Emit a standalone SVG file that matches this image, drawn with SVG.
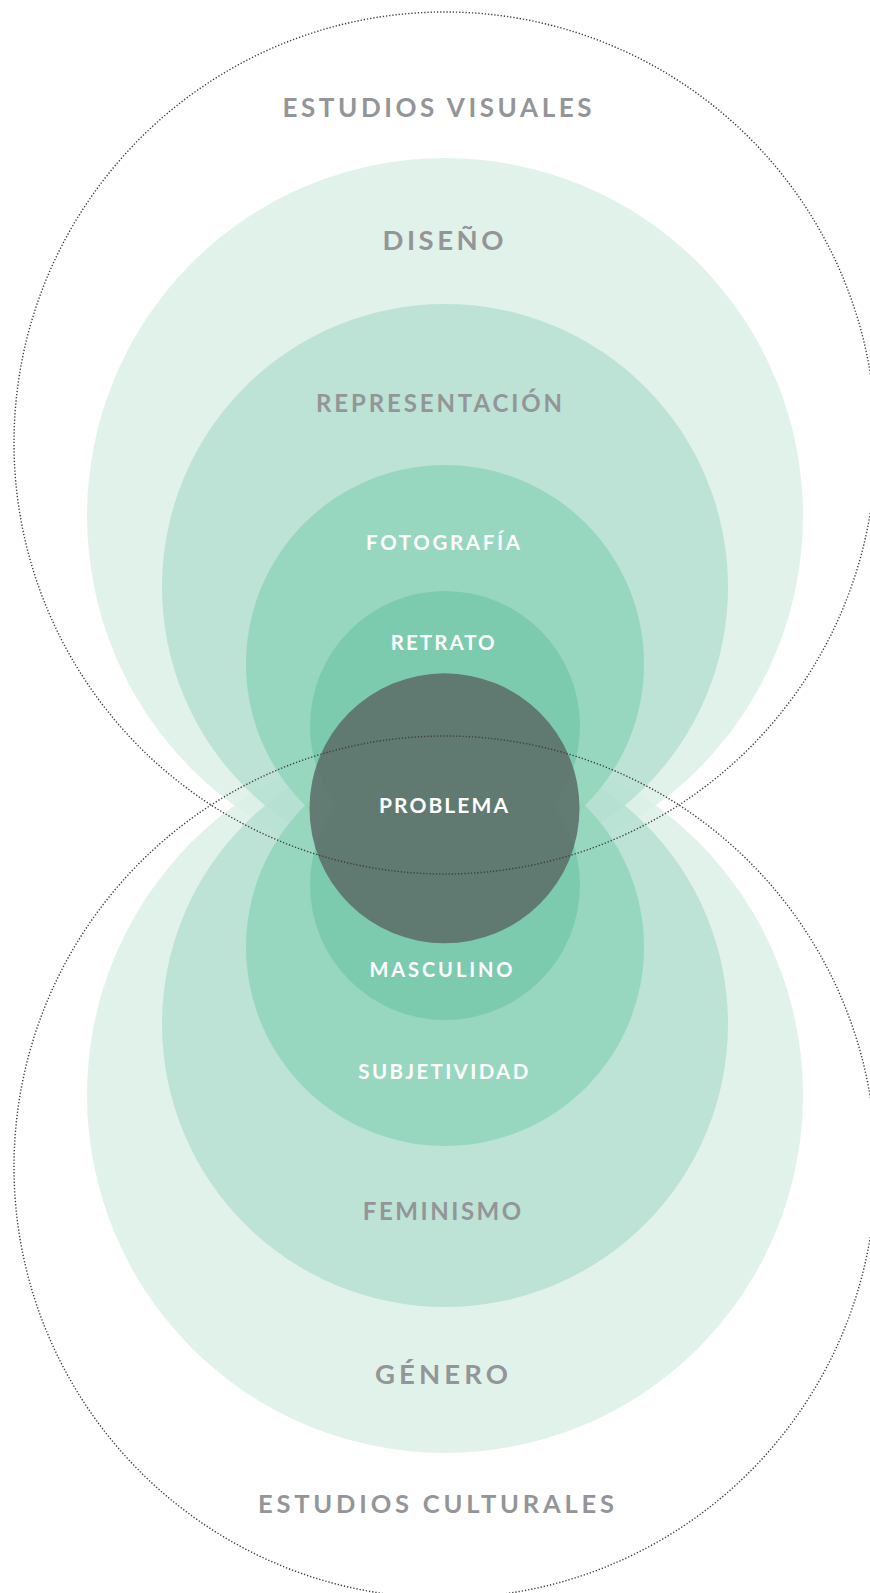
<svg xmlns="http://www.w3.org/2000/svg" width="870" height="1593" viewBox="0 0 870 1593">
<style>
.l1{fill:#dcf0e6;opacity:0.85}
.l2{fill:#b5e1d1;opacity:0.85}
.l3{fill:#92d5bb;opacity:0.85}
.l4{fill:#77c9ab;opacity:0.85}
.core{fill:#5d716b;opacity:0.9}
.dot{fill:none;stroke:#3f3f3f;stroke-width:1.4;stroke-dasharray:1.3 1.9}
.g{font-family:Lato,"Liberation Sans",sans-serif;font-weight:700;fill:#939598;text-anchor:middle}
.w{font-family:Lato,"Liberation Sans",sans-serif;font-weight:700;fill:#ffffff;text-anchor:middle}
</style>
<rect width="870" height="1593" fill="#ffffff"/>
<g id="diseno"><circle class="l1" cx="445" cy="516" r="358"/><text class="g" x="443" y="250" font-size="27.5" textLength="121" lengthAdjust="spacing">DISEÑO</text></g>
<g id="genero"><circle class="l1" cx="445" cy="1095" r="358"/><text class="g" x="441.5" y="1384" font-size="27.5" textLength="133" lengthAdjust="spacing">GÉNERO</text></g>
<g id="representacion"><circle class="l2" cx="445" cy="587" r="283"/><text class="g" x="439" y="411.5" font-size="24" textLength="246" lengthAdjust="spacing">REPRESENTACIÓN</text></g>
<g id="feminismo"><circle class="l2" cx="445" cy="1024" r="283"/><text class="g" x="442" y="1219.5" font-size="24" textLength="158.5" lengthAdjust="spacing">FEMINISMO</text></g>
<g id="fotografia"><circle class="l3" cx="445" cy="664" r="199"/><text class="w" x="443" y="550" font-size="20.5" textLength="154" lengthAdjust="spacing">FOTOGRAFÍA</text></g>
<g id="subjetividad"><circle class="l3" cx="445" cy="947" r="199"/><text class="w" x="443.3" y="1079.3" font-size="20.5" textLength="170" lengthAdjust="spacing">SUBJETIVIDAD</text></g>
<g id="retrato"><circle class="l4" cx="445" cy="726" r="135"/><text class="w" x="442.7" y="650" font-size="20.5" textLength="104" lengthAdjust="spacing">RETRATO</text></g>
<g id="masculino"><circle class="l4" cx="445" cy="885" r="135"/><text class="w" x="441" y="976.7" font-size="20" textLength="143" lengthAdjust="spacing">MASCULINO</text></g>
<g id="problema"><circle class="core" cx="444.5" cy="808.3" r="135"/><text class="w" x="443.5" y="812.7" font-size="21" textLength="129" lengthAdjust="spacing">PROBLEMA</text></g>
<g id="estudios-visuales"><circle class="dot" cx="445" cy="443" r="431"/><text class="g" x="437" y="116.5" font-size="26" textLength="309" lengthAdjust="spacing">ESTUDIOS VISUALES</text></g>
<g id="estudios-culturales"><circle class="dot" cx="445" cy="1167" r="431"/><text class="g" x="436" y="1513" font-size="25.5" textLength="356" lengthAdjust="spacing">ESTUDIOS CULTURALES</text></g>
</svg>
